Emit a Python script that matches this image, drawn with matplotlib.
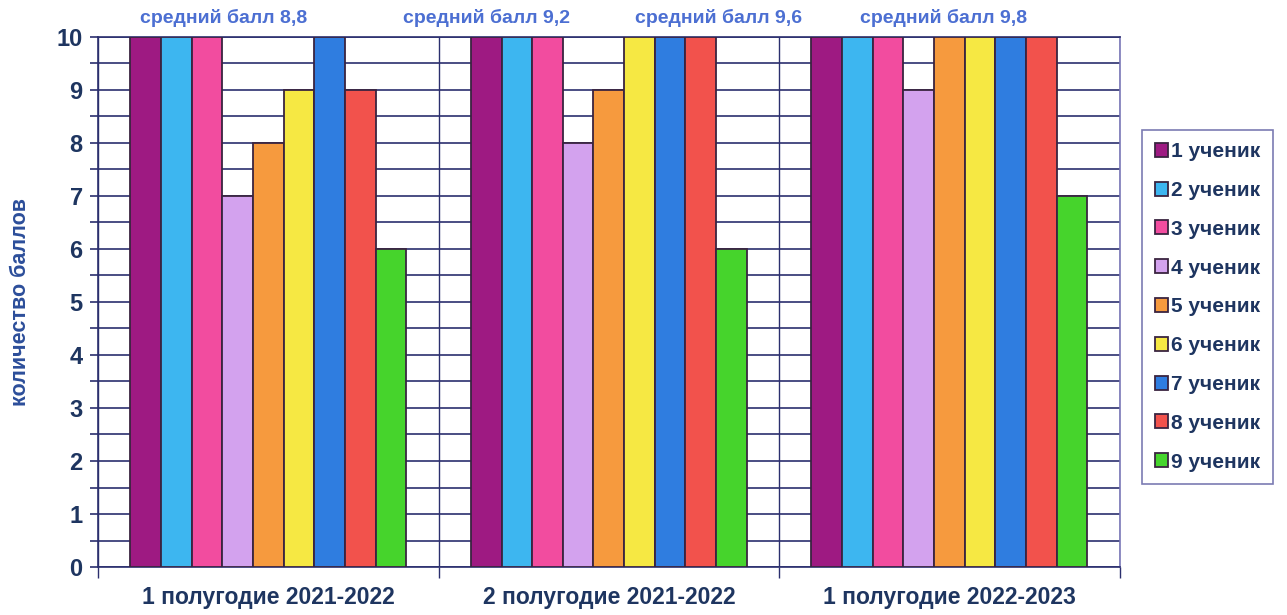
import matplotlib
matplotlib.use("Agg")
import matplotlib.pyplot as plt
import numpy as np
from matplotlib.ticker import MultipleLocator, FixedLocator

plt.rcParams['font.family'] = ['Liberation Sans', 'DejaVu Sans']

periods = ["1 полугодие 2021-2022", "2 полугодие 2021-2022", "1 полугодие 2022-2023"]
students = ["1 ученик", "2 ученик", "3 ученик", "4 ученик", "5 ученик",
            "6 ученик", "7 ученик", "8 ученик", "9 ученик"]
scores = [
    [10, 10, 10],   # 1 ученик
    [10, 10, 10],   # 2 ученик
    [10, 10, 10],   # 3 ученик
    [7, 8, 9],      # 4 ученик
    [8, 9, 10],     # 5 ученик
    [9, 10, 10],    # 6 ученик
    [10, 10, 10],   # 7 ученик
    [9, 10, 10],    # 8 ученик
    [6, 6, 7],      # 9 ученик
]
avg_labels = ["средний балл 8,8", "средний балл 9,2", "средний балл 9,6", "средний балл 9,8"]
avg_label_x = [-0.132, 0.640, 1.322, 1.982]

colors = ["#9E1A82", "#3DB6F0", "#F24C9F", "#D3A2EE", "#F69A3E",
          "#F6E843", "#2F7DE0", "#F2524C", "#46D42C"]

navy = "#1E3560"
grid_c = "#2B2F6E"

fig = plt.figure(figsize=(12.87, 6.15), dpi=100)
ax = fig.add_axes([0.0761, 0.078, 0.7939, 0.862])

x = np.arange(len(periods))
w = 0.09
n = len(students)
for i, (name, vals) in enumerate(zip(students, scores)):
    off = (i - (n - 1) / 2) * w
    ax.bar(x + off, vals, width=w, color=colors[i], edgecolor="#3A2440",
           linewidth=1.3, label=name, zorder=3)

ax.set_xlim(-0.5, 2.5)
ax.set_ylim(0, 10)
ax.yaxis.set_major_locator(MultipleLocator(1))
ax.yaxis.set_minor_locator(MultipleLocator(0.5))
ax.grid(axis='y', which='both', color=grid_c, linewidth=1.2, zorder=0)
ax.xaxis.set_major_locator(FixedLocator(x))
ax.xaxis.set_minor_locator(FixedLocator([-0.5, 0.5, 1.5, 2.5]))
ax.grid(axis='x', which='minor', color=grid_c, linewidth=1.0, zorder=0)
ax.set_xticklabels(periods, fontsize=16.5, fontweight='bold', color=navy)
ax.tick_params(axis='x', which='major', length=0, pad=14)
ax.tick_params(axis='x', which='minor', length=8, color=grid_c, width=1)
ax.tick_params(axis='y', which='both', length=6, color=grid_c, width=1.2,
               labelsize=17, labelcolor=navy, pad=5)
for lbl in ax.get_yticklabels():
    lbl.set_fontweight('bold')
for s in ax.spines.values():
    s.set_color(grid_c)
    s.set_linewidth(1.2)
ax.spines['right'].set_color("#7A78B8")

ax.set_ylabel("количество баллов", fontsize=15.5, fontweight='bold', color="#2C4E9A", labelpad=18)

for tx, t in zip(avg_label_x, avg_labels):
    ax.text(tx, 10.36, t, ha='center', va='center', fontsize=14, fontweight='bold',
            color="#4C6FD2", clip_on=False)

leg = ax.legend(loc='upper left', bbox_to_anchor=(1.022, 0.825), frameon=True,
                fancybox=False, edgecolor="#5A5AA0", prop={'size': 15, 'weight': 'bold'},
                handlelength=0.65, handleheight=0.65, handletextpad=0.15,
                labelspacing=0.95, borderpad=0.6, borderaxespad=0)
for t in leg.get_texts():
    t.set_color(navy)
leg.get_frame().set_linewidth(1.2)

fig.savefig("out.png", dpi=100)
